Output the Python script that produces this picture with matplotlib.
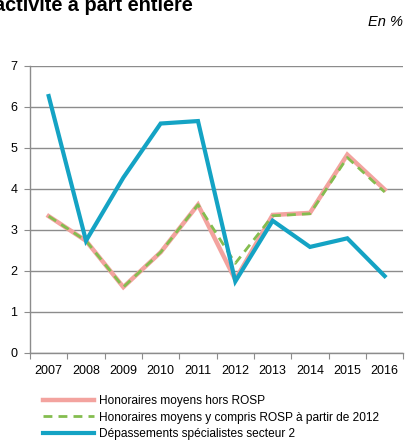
import numpy as np
import matplotlib
matplotlib.use('Agg')
import matplotlib.pyplot as plt
from matplotlib.ticker import FixedLocator, NullFormatter

plt.rcParams['font.family'] = ['Liberation Sans', 'DejaVu Sans']

years = ['2007', '2008', '2009', '2010', '2011', '2012', '2013', '2014', '2015', '2016']
hors_rosp = [3.33, 2.73, 1.60, 2.45, 3.61, 1.78, 3.36, 3.41, 4.83, 3.98]
avec_rosp = [3.33, 2.73, 1.60, 2.45, 3.61, 2.18, 3.34, 3.39, 4.76, 3.92]
depassements = [6.26, 2.73, 4.27, 5.59, 5.65, 1.74, 3.22, 2.58, 2.79, 1.87]

labels = ['Honoraires moyens hors ROSP',
          'Honoraires moyens y compris ROSP à partir de 2012',
          'Dépassements spécialistes secteur 2']

fig = plt.figure(figsize=(4.05, 4.41), dpi=100)
ax = fig.add_axes([0.0741, 0.2002, 0.9217, 0.6508])

x = np.arange(len(years))
l1, = ax.plot(x, hors_rosp, color='#F3A39F', lw=3.2, solid_joinstyle='miter', zorder=3)
l2, = ax.plot(x, avec_rosp, color='#84BD4F', lw=2.0, dashes=(3.2, 2.2), zorder=4)
l3, = ax.plot(x, depassements, color='#14A3C4', lw=3.0, solid_joinstyle='miter', zorder=5)

ax.set_xlim(-0.5, len(years) - 0.5)
ax.set_ylim(0, 7)
ax.set_yticks(range(8))
ax.yaxis.grid(True, color='#8C8C8C', lw=1.0)
ax.set_axisbelow(True)

# category boundaries get the tick marks, labels sit between
ax.xaxis.set_major_locator(FixedLocator(np.arange(-0.5, len(years), 1.0)))
ax.xaxis.set_major_formatter(NullFormatter())
ax.xaxis.set_minor_locator(FixedLocator(x))
ax.set_xticklabels(years, minor=True)
ax.tick_params(axis='x', which='major', length=4, color='#8C8C8C', direction='out')
ax.tick_params(axis='x', which='minor', length=0, pad=9, labelsize=9)
ax.tick_params(axis='y', length=4, color='#8C8C8C', labelsize=9, pad=5)

for s in ['top', 'right']:
    ax.spines[s].set_visible(False)
for s in ['left', 'bottom']:
    ax.spines[s].set_color('#8C8C8C')
    ax.spines[s].set_linewidth(1.0)

fig.text(-0.015, 0.976, 'activité à part entière', fontsize=14.3, fontweight='bold',
         ha='left', va='baseline')
fig.text(0.995, 0.95, 'En %', fontsize=10.5, style='italic', ha='right', va='center')

fig.legend([l1, l2, l3], labels, loc='upper left', bbox_to_anchor=(0.105, 0.104),
           frameon=False, fontsize=8.6, handlelength=4.3, handletextpad=0.4,
           labelspacing=0.38, borderaxespad=0, borderpad=0)

fig.savefig('out.png', dpi=100)
